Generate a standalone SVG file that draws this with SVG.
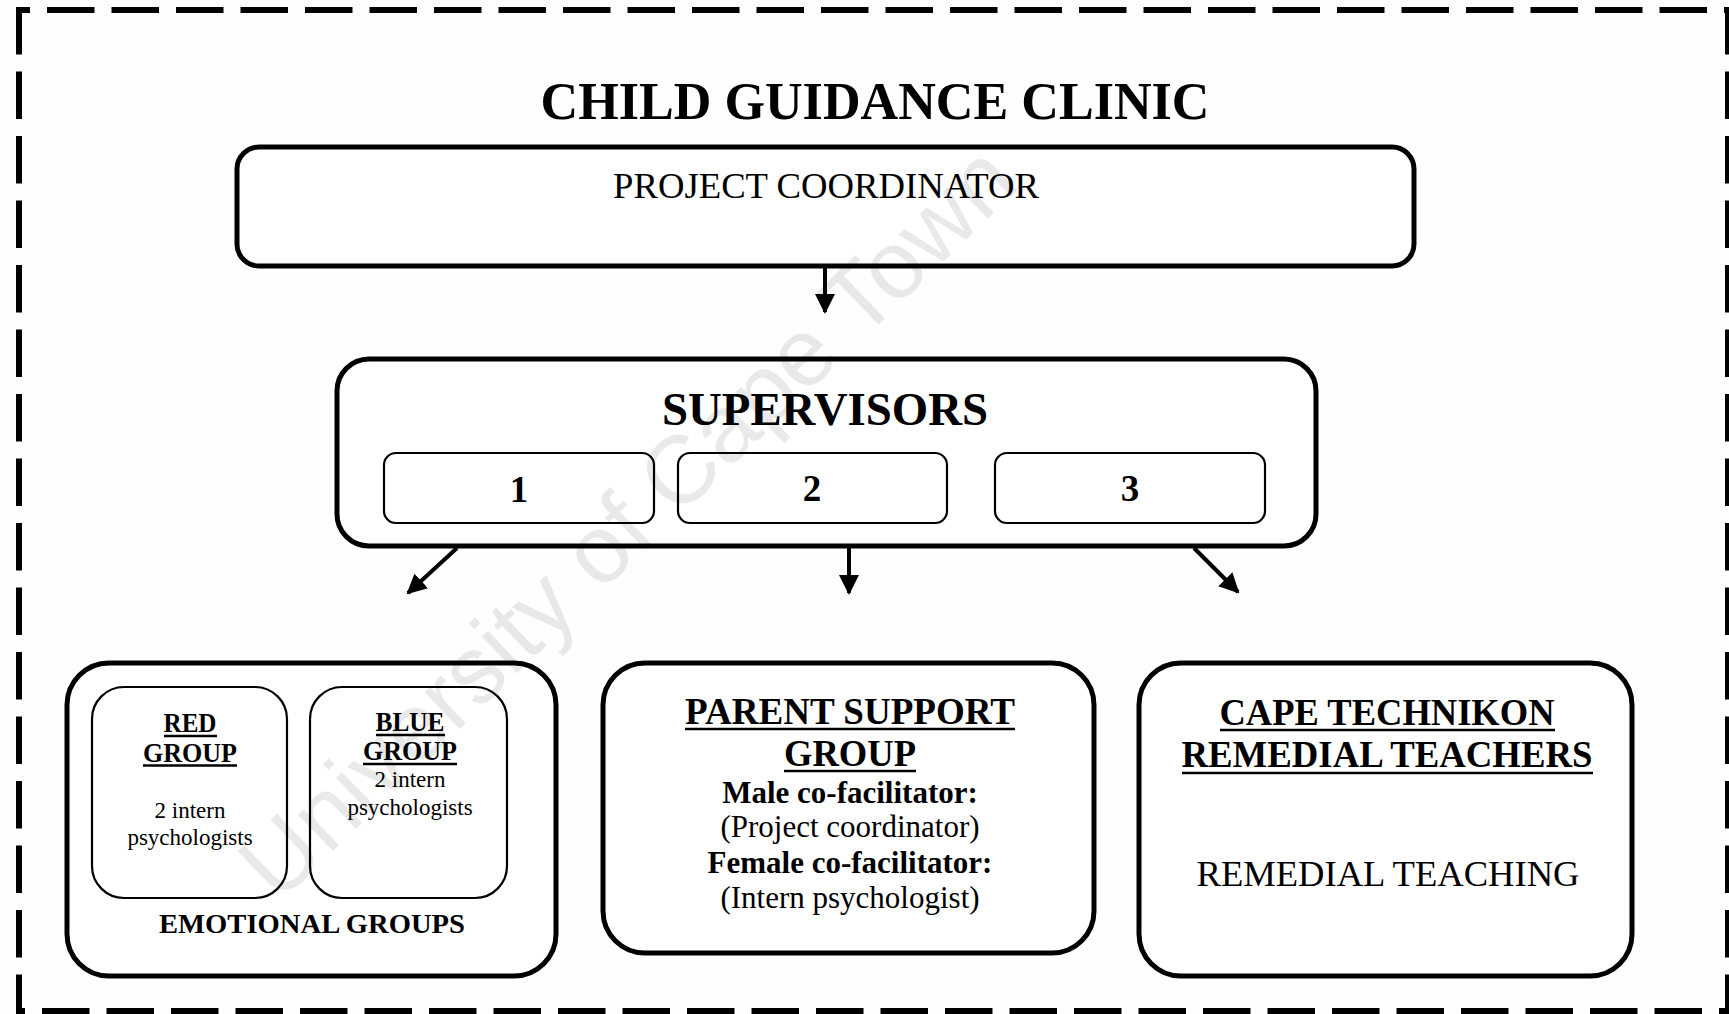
<svg xmlns="http://www.w3.org/2000/svg" width="1729" height="1014" viewBox="0 0 1729 1014">
<style>
  .serif { font-family: "Liberation Serif", "Times New Roman", serif; fill: #000; }
  .b { font-weight: bold; }
  .box { fill: #fff; stroke: #000; stroke-width: 5; }
  .sub { fill: #fff; stroke: #000; stroke-width: 2.2; }
  .ul { stroke: #000; stroke-width: 2.5; }
  .dash { stroke: #000; stroke-width: 6; fill: none; stroke-dasharray: 47.5 17; }
  .conn { stroke: #000; stroke-width: 4; fill: none; }
  .wm { font-family: "Liberation Sans", Arial, sans-serif; fill: #000; fill-opacity: 0.085; }
</style>
<defs>
  <marker id="ah" viewBox="0 0 10 10" refX="9" refY="5" markerWidth="5" markerHeight="5" markerUnits="strokeWidth" orient="auto">
    <path d="M0,0 L10,5 L0,10 z" fill="#000"/>
  </marker>
</defs>
<rect x="0" y="0" width="1729" height="1014" fill="#fefefe"/>

<!-- dashed frame -->
<g id="frame">
  <line class="dash" x1="17" y1="10" x2="1729" y2="10" stroke-dashoffset="34.5"/>
  <line class="dash" x1="19" y1="7" x2="19" y2="1014"/>
  <line class="dash" x1="1728" y1="7" x2="1728" y2="1014"/>
  <line class="dash" x1="17" y1="1011" x2="1729" y2="1011" stroke-dashoffset="39.5"/>
</g>

<g id="title">
  <text class="serif b" x="875" y="119" font-size="52" text-anchor="middle" textLength="669" lengthAdjust="spacingAndGlyphs">CHILD GUIDANCE CLINIC</text>
</g>

<g id="project-coordinator">
  <rect class="box" x="237" y="147" width="1177" height="119" rx="22"/>
  <text class="serif" x="826" y="198" font-size="36" text-anchor="middle" textLength="426" lengthAdjust="spacingAndGlyphs">PROJECT COORDINATOR</text>
</g>

<g id="supervisors">
  <rect class="box" x="337" y="359" width="979" height="187" rx="32"/>
  <text class="serif b" x="825" y="425" font-size="46" text-anchor="middle" textLength="326" lengthAdjust="spacingAndGlyphs">SUPERVISORS</text>
</g>
<g id="supervisor-1">
  <rect class="sub" x="384" y="453" width="270" height="70" rx="12"/>
  <text class="serif b" x="519" y="502" font-size="37" text-anchor="middle">1</text>
</g>
<g id="supervisor-2">
  <rect class="sub" x="678" y="453" width="269" height="70" rx="12"/>
  <text class="serif b" x="812" y="501" font-size="37" text-anchor="middle">2</text>
</g>
<g id="supervisor-3">
  <rect class="sub" x="995" y="453" width="270" height="70" rx="12"/>
  <text class="serif b" x="1130" y="501" font-size="37" text-anchor="middle">3</text>
</g>

<g id="emotional-groups">
  <rect class="box" x="67" y="663" width="489" height="313" rx="42"/>
  <text class="serif b" x="312" y="933" font-size="28" text-anchor="middle" textLength="306" lengthAdjust="spacingAndGlyphs">EMOTIONAL GROUPS</text>
</g>
<g id="red-group">
  <rect class="sub" x="92" y="687" width="195" height="211" rx="32"/>
  <text class="serif b" x="190" y="732" font-size="28" text-anchor="middle" textLength="53" lengthAdjust="spacingAndGlyphs">RED</text>
  <line class="ul" x1="164" y1="736" x2="217" y2="736"/>
  <text class="serif b" x="190" y="762" font-size="28" text-anchor="middle" textLength="94" lengthAdjust="spacingAndGlyphs">GROUP</text>
  <line class="ul" x1="143" y1="765.5" x2="237" y2="765.5"/>
  <text class="serif" x="190" y="818" font-size="23" text-anchor="middle">2 intern</text>
  <text class="serif" x="190" y="845" font-size="23" text-anchor="middle">psychologists</text>
</g>
<g id="blue-group">
  <rect class="sub" x="310" y="687" width="197" height="211" rx="32"/>
  <text class="serif b" x="410" y="731" font-size="28" text-anchor="middle" textLength="69" lengthAdjust="spacingAndGlyphs">BLUE</text>
  <line class="ul" x1="376" y1="735" x2="445" y2="735"/>
  <text class="serif b" x="410" y="760" font-size="28" text-anchor="middle" textLength="94" lengthAdjust="spacingAndGlyphs">GROUP</text>
  <line class="ul" x1="363" y1="764" x2="457" y2="764"/>
  <text class="serif" x="410" y="787" font-size="23" text-anchor="middle">2 intern</text>
  <text class="serif" x="410" y="815" font-size="23" text-anchor="middle">psychologists</text>
</g>

<g id="parent-support-group">
  <rect class="box" x="603" y="663" width="491" height="290" rx="42"/>
  <text class="serif b" x="850" y="724" font-size="37" text-anchor="middle" textLength="330" lengthAdjust="spacingAndGlyphs">PARENT SUPPORT</text>
  <line class="ul" x1="685" y1="729" x2="1015" y2="729"/>
  <text class="serif b" x="850" y="766" font-size="37" text-anchor="middle" textLength="132" lengthAdjust="spacingAndGlyphs">GROUP</text>
  <line class="ul" x1="784" y1="771" x2="916" y2="771"/>
  <text class="serif b" x="850" y="803" font-size="31" text-anchor="middle">Male co-facilitator:</text>
  <text class="serif" x="850" y="837" font-size="31" text-anchor="middle">(Project coordinator)</text>
  <text class="serif b" x="850" y="873" font-size="31" text-anchor="middle">Female co-facilitator:</text>
  <text class="serif" x="850" y="908" font-size="31" text-anchor="middle">(Intern psychologist)</text>
</g>

<g id="cape-technikon">
  <rect class="box" x="1139" y="663" width="493" height="313" rx="42"/>
  <text class="serif b" x="1387" y="725" font-size="37" text-anchor="middle" textLength="335" lengthAdjust="spacingAndGlyphs">CAPE TECHNIKON</text>
  <line class="ul" x1="1220" y1="730" x2="1555" y2="730"/>
  <text class="serif b" x="1387" y="767" font-size="37" text-anchor="middle" textLength="411" lengthAdjust="spacingAndGlyphs">REMEDIAL TEACHERS</text>
  <line class="ul" x1="1182" y1="773" x2="1593" y2="773"/>
  <text class="serif" x="1388" y="886" font-size="36.5" text-anchor="middle" textLength="383" lengthAdjust="spacingAndGlyphs">REMEDIAL TEACHING</text>
</g>

<g id="connectors">
  <line class="conn" x1="825" y1="266" x2="825" y2="312" marker-end="url(#ah)"/>
  <line class="conn" x1="457" y1="548" x2="408" y2="593" marker-end="url(#ah)"/>
  <line class="conn" x1="849" y1="548" x2="849" y2="593" marker-end="url(#ah)"/>
  <line class="conn" x1="1194" y1="548" x2="1238" y2="592" marker-end="url(#ah)"/>
</g>

<g id="watermark">
  <text class="wm" transform="translate(650,545) rotate(-44)" font-size="96" text-anchor="middle">University of Cape Town</text>
</g>
</svg>
